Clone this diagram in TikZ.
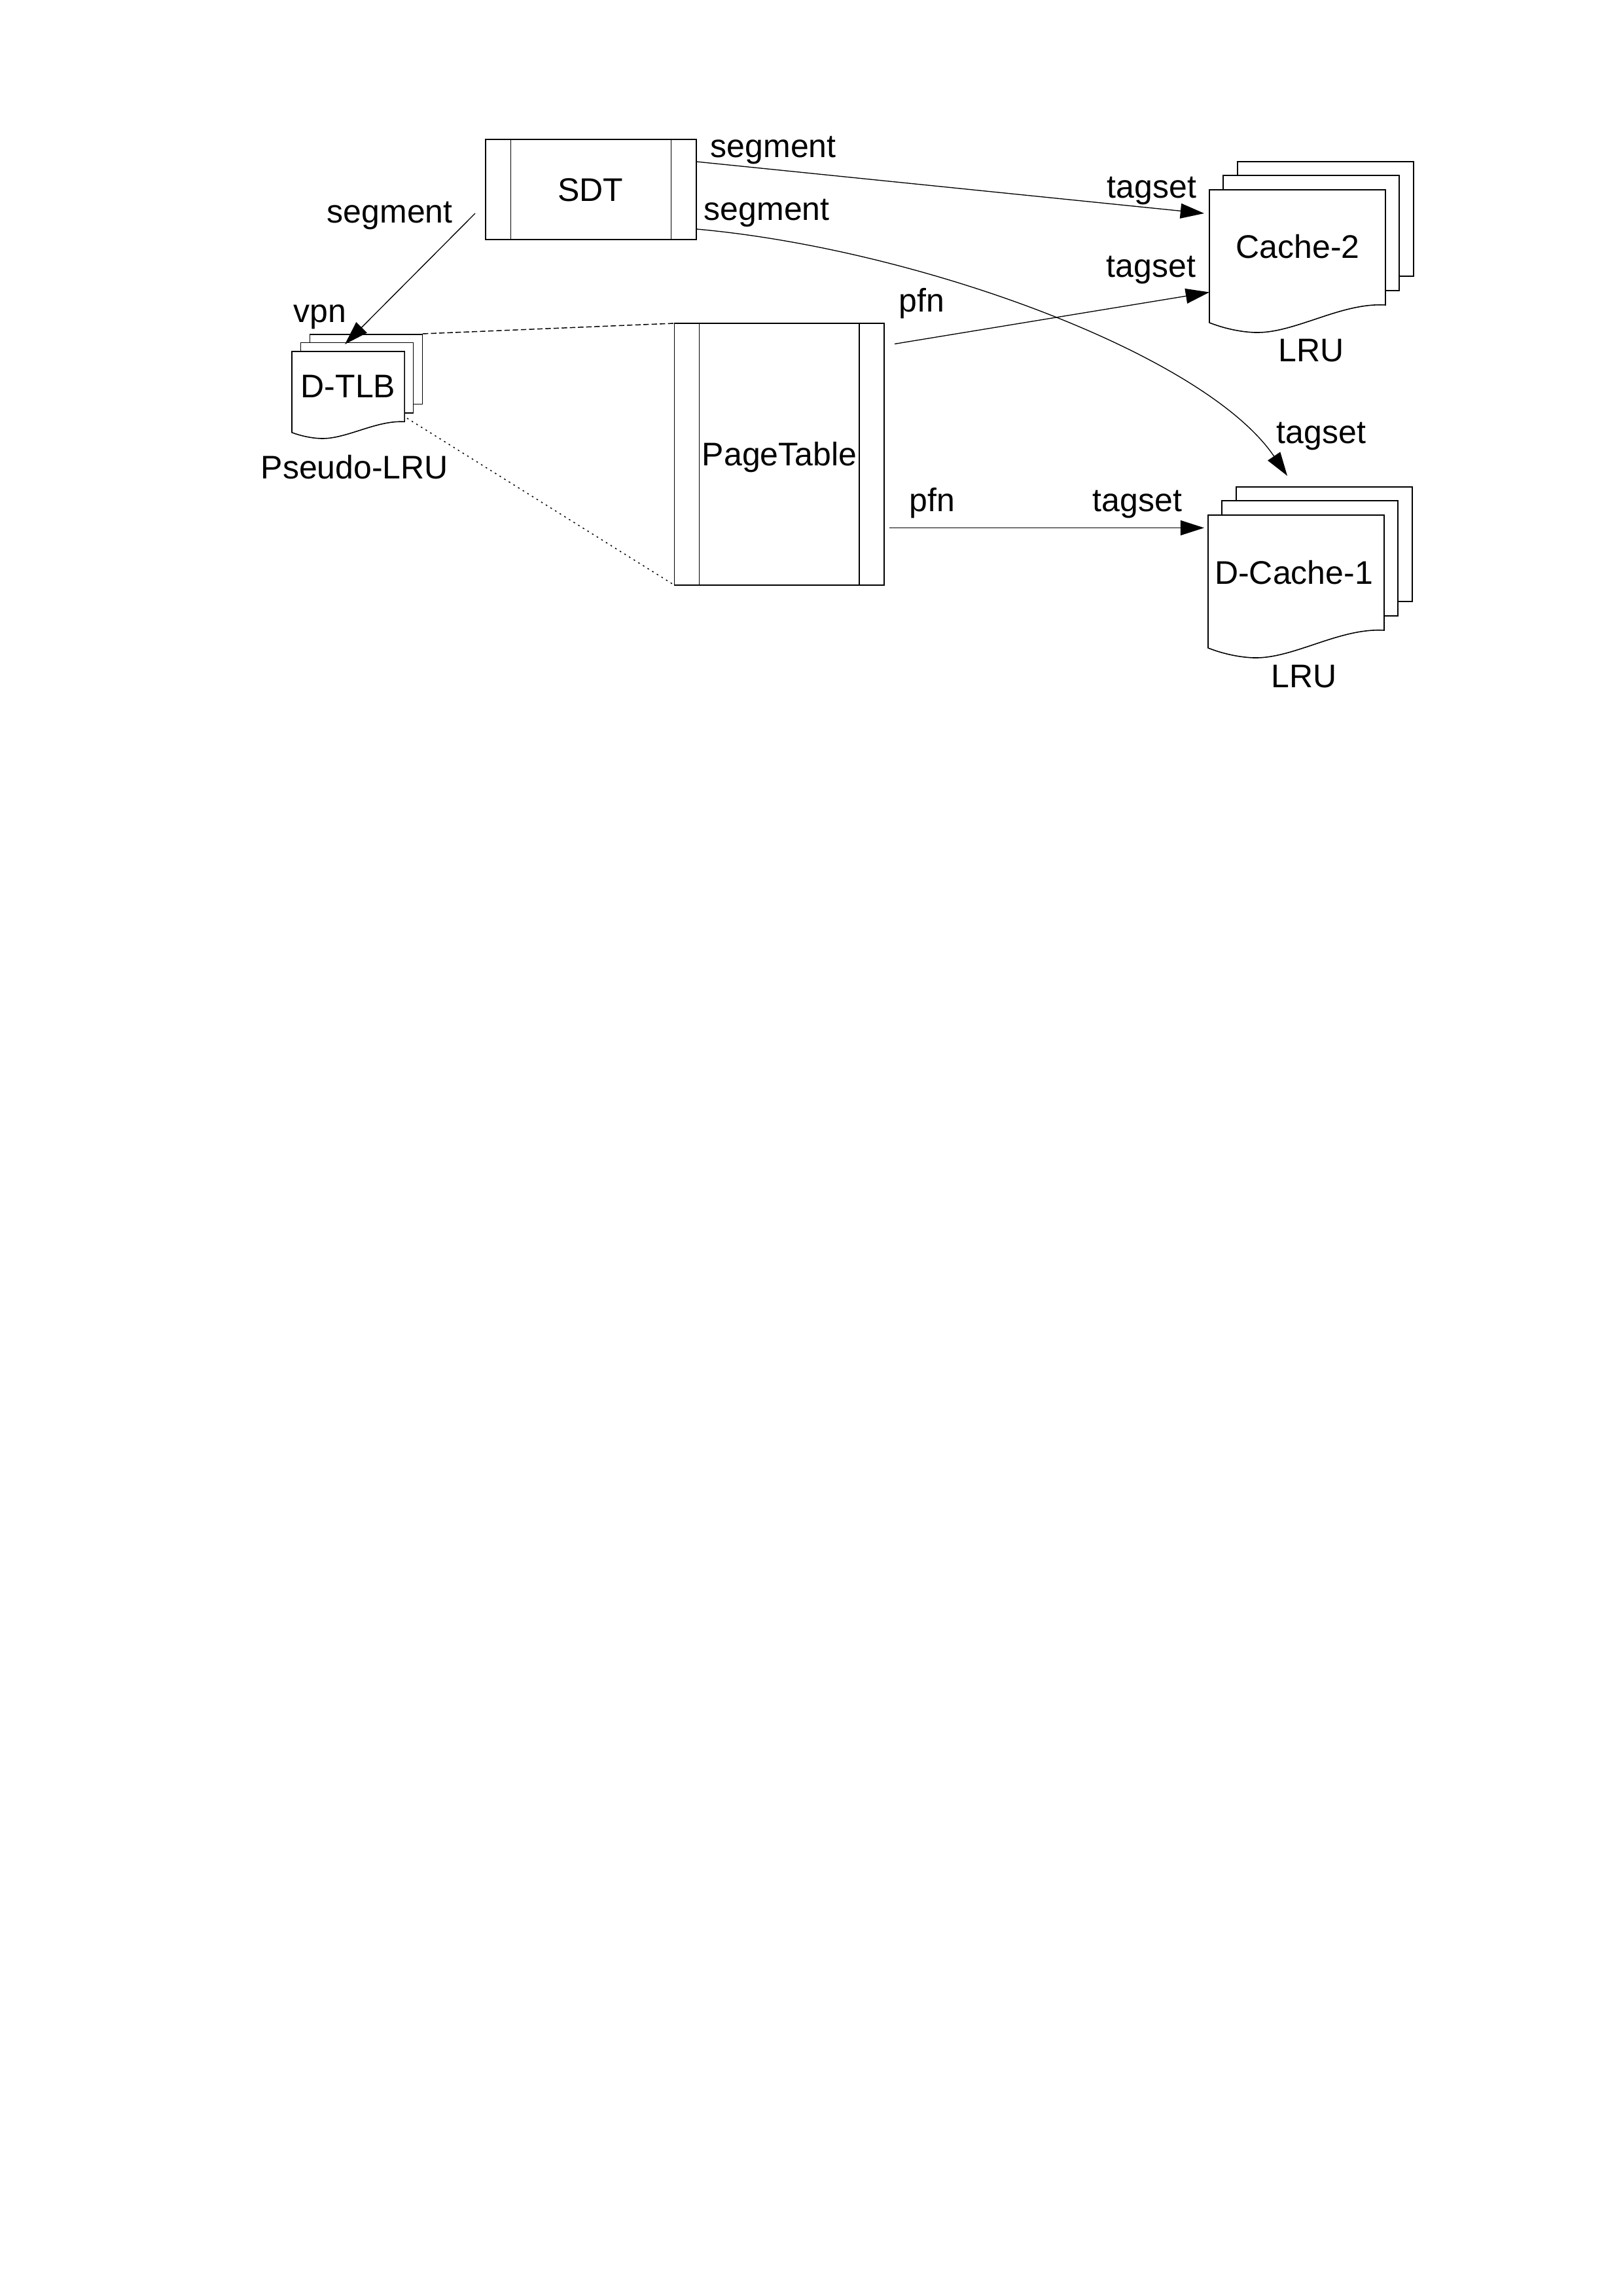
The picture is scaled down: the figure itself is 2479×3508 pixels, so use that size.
\documentclass[tikz,border=0pt]{standalone}
\usepackage{fontspec}
\setmainfont{Liberation Sans}
\usetikzlibrary{arrows.meta}
\tikzset{
  docstack/.pic={
    \draw[boxline] (43,-43) rectangle (312,132);
    \draw[boxline] (21,-22) rectangle (290,154);
    \draw[boxline] (0,0) -- (269,0) -- (269,176)
      .. controls (200,172) and (130,220) .. (69,218)
      .. controls (45,217) and (20,211) .. (0,203) -- cycle;
  }
}
\begin{document}
\begin{tikzpicture}[x=0.2401pt,y=-0.2401pt,
  boxline/.style={draw=black, line width=0.38pt, fill=white},
  lbl/.style={anchor=base west, inner sep=0pt, font=\fontsize{12}{14}\selectfont},
  ttl/.style={anchor=base, inner sep=0pt, font=\fontsize{12}{14}\selectfont},
  conn/.style={line width=0.32pt, -{Triangle[length=8.7pt,width=5.5pt]}},
  dashln/.style={line width=0.35pt, dash pattern=on 2pt off 1pt},
  dotln/.style={line width=0.35pt, dash pattern=on 0.6pt off 1.4pt}]
\useasboundingbox (0,0) rectangle (2479,3508);

% SDT table
\draw[boxline] (742,213) rectangle (1064,366);
\draw[line width=0.38pt] (780.5,213) -- (780.5,366) (1025.5,213) -- (1025.5,366);
\node[ttl] (sdt) at (902,307.5) {SDT};

% PageTable
\draw[boxline] (1030.5,494) rectangle (1351,894);
\draw[line width=0.38pt] (1068.5,494) -- (1068.5,894) (1313,494) -- (1313,894);
\node[ttl] (pt) at (1191,711.5) {PageTable};

% D-TLB stack
\pic[xscale=0.64,yscale=0.61] at (446,537) {docstack};
\node[ttl] (dtlb) at (532,607.5) {D-TLB};
\node[lbl] (plru) at (398,732) {Pseudo-LRU};

% Cache-2 stack
\pic at (1848,290) {docstack};
\node[ttl] (c2) at (1983,395) {Cache-2};
\node[lbl] (lru1) at (1953,553) {LRU};

% D-Cache-1 stack
\pic at (1846,787) {docstack};
\node[ttl] (dc1) at (1977,892.5) {D-Cache-1};
\node[lbl] (lru2) at (1942,1050) {LRU};

% connector end points
\coordinate (sdtL) at (726,326);
\coordinate (dtlbT) at (527,526);
\coordinate (sdtR1) at (1064,247);
\coordinate (c2a) at (1840,326);
\coordinate (sdtR2) at (1064,350);
\coordinate (dc1a) at (1967,727);
\coordinate (ptR1) at (1367,525.5);
\coordinate (c2b) at (1848,446.5);
\coordinate (ptR2) at (1359,806.5);
\coordinate (dc1b) at (1840,806.5);
\coordinate (dtlbTR) at (646,510);
\coordinate (ptTL) at (1030.5,494);
\coordinate (dtlbBR) at (622,639);
\coordinate (ptBL) at (1030.5,894);

% connectors
\draw[conn] (sdtL) -- (dtlbT);
\draw[conn] (sdtR1) -- (c2a);
\draw[conn] (sdtR2) .. controls (1400,380) and (1840,540) .. (dc1a);
\draw[conn] (ptR1) -- (c2b);
\draw[conn] (ptR2) -- (dc1b);
\draw[dashln] (dtlbTR) -- (ptTL);
\draw[dotln] (dtlbBR) -- (ptBL);

% labels
\node[lbl] (seg1) at (1085,241) {segment};
\node[lbl] (seg2) at (1075,337) {segment};
\node[lbl] (seg3) at (499,341) {segment};
\node[lbl] (vpn) at (448,493) {vpn};
\node[lbl] (tg1) at (1691,303) {tagset};
\node[lbl] (tg2) at (1690,424) {tagset};
\node[lbl] (pfn1) at (1373,477) {pfn};
\node[lbl] (pfn2) at (1389,782) {pfn};
\node[lbl] (tg3) at (1669,782) {tagset};
\node[lbl] (tg4) at (1950,678) {tagset};
\end{tikzpicture}
\end{document}
